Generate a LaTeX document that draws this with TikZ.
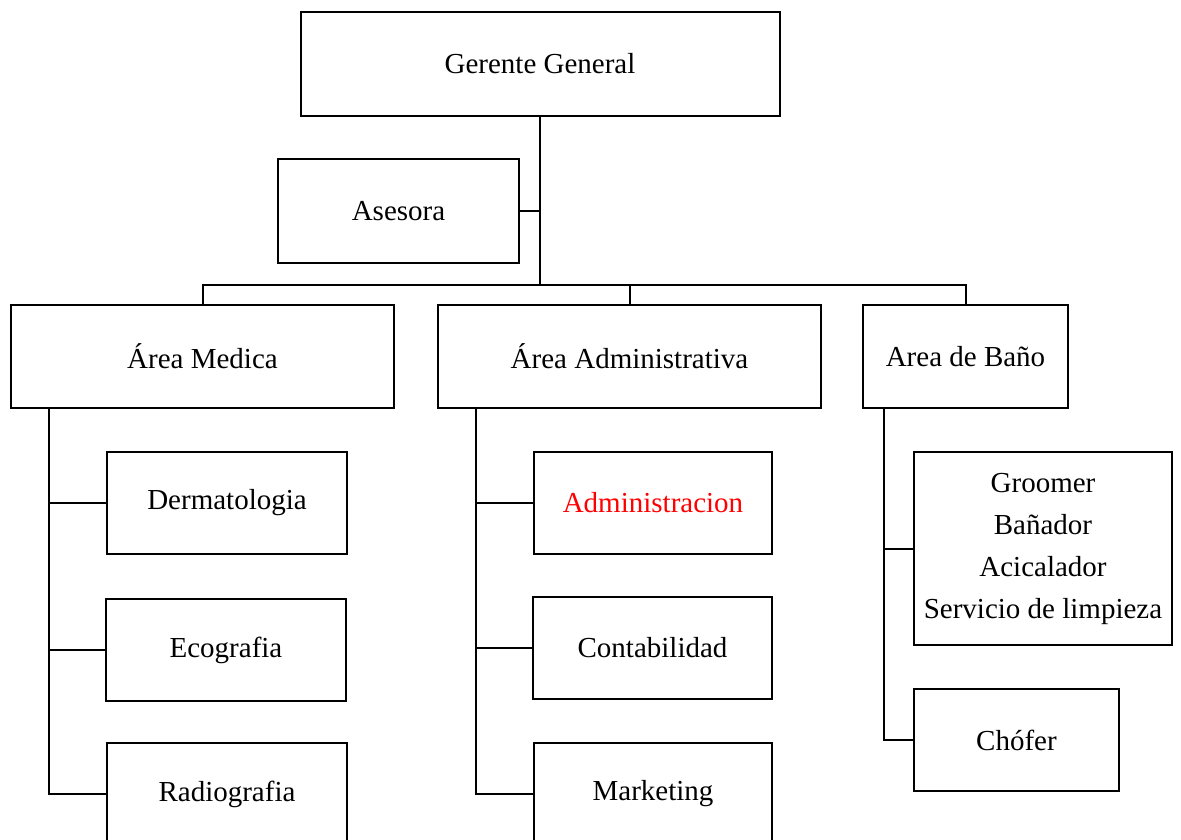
\documentclass[tikz,border=0pt]{standalone}
\usepackage{fontspec}
\setmainfont{Liberation Serif}
\begin{document}
\begin{tikzpicture}[x=1pt,y=-1pt,
  box/.style={draw, line width=2pt, rectangle, inner sep=0pt, align=center,
    font=\fontsize{29}{42}\selectfont},
  link/.style={line width=2pt}]
\useasboundingbox (0,0) rectangle (1181,840);
\clip (0,0) rectangle (1181,840);

% top level
\node[box, minimum width=479pt, minimum height=104pt] (gg)   at (540,64) {Gerente General};
\node[box, minimum width=241pt, minimum height=104pt] (ase)  at (398.5,211) {Asesora};

% areas
\node[box, minimum width=383pt, minimum height=103pt] (med)  at (202.5,356.5) {Área Medica};
\node[box, minimum width=383pt, minimum height=103pt] (adm)  at (629.5,356.5) {Área Administrativa};
\node[box, minimum width=205pt, minimum height=103pt] (bano) at (965.5,356.5) {Area de Baño};

% medical area
\node[box, minimum width=240pt, minimum height=102pt] (derm)  at (227,503) {Dermatologia};
\node[box, minimum width=240pt, minimum height=102pt] (eco)   at (226,650) {Ecografia};
\node[box, minimum width=240pt, minimum height=102pt] (radio) at (227,794) {Radiografia};

% administrative area
\node[box, minimum width=238pt, minimum height=102pt, text=red] (admin) at (653,503) {Administracion};
\node[box, minimum width=239pt, minimum height=102pt] (cont)  at (652.5,648) {Contabilidad};
\node[box, minimum width=238pt, minimum height=102pt] (mkt)   at (653,794) {Marketing};

% bath area
\node[box, minimum width=258pt, minimum height=193pt] (groom) at (1043,548.5)
  {Groomer\\Bañador\\Acicalador\\Servicio de limpieza};
\node[box, minimum width=205pt, minimum height=102pt] (chof)  at (1016.5,740) {Chófer};

% connectors
\coordinate (bus) at (540,285);
\draw[link] (gg.south) -- (bus);
\draw[link] (ase.east) -- (ase.east -| gg.south);
\draw[link] (med.north) |- (bus) -| (bano.north);
\draw[link] (adm.north) -- (adm.north |- bus);

\coordinate (medsp) at (49,408);
\draw[link] (medsp) |- (derm.west);
\draw[link] (medsp) |- (eco.west);
\draw[link] (medsp) |- (radio.west);

\coordinate (admsp) at (476,408);
\draw[link] (admsp) |- (admin.west);
\draw[link] (admsp) |- (cont.west);
\draw[link] (admsp) |- (mkt.west);

\coordinate (banosp) at (884,408);
\draw[link] (banosp) |- (groom.west);
\draw[link] (banosp) |- (chof.west);
\end{tikzpicture}
\end{document}
